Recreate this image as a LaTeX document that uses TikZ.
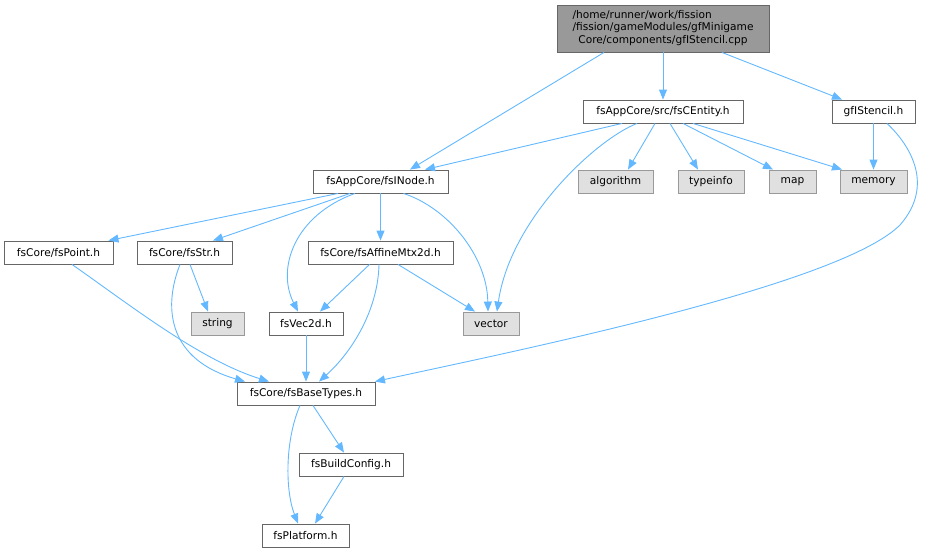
\documentclass[tikz,border=0pt]{standalone}
\usepackage{fontspec}
\setmainfont{DejaVu Sans}
\usetikzlibrary{arrows.meta}
\definecolor{edgec}{HTML}{63B8FF}
\definecolor{topfill}{HTML}{999999}
\definecolor{boxdraw}{HTML}{666666}
\definecolor{sysfill}{HTML}{E0E0E0}
\definecolor{sysdraw}{HTML}{999999}
\begin{document}
\begin{tikzpicture}[x=1pt,y=-1pt,
  box/.style={draw=boxdraw, fill=white, line width=0.9pt, minimum height=23pt, inner sep=0pt, font=\fontsize{10.6}{12.4}\selectfont},
  sysbox/.style={box, draw=sysdraw, fill=sysfill},
  topbox/.style={box, fill=topfill, minimum height=47pt},
  dep/.style={draw=edgec, line width=0.9pt, -{Triangle[length=10pt,width=8pt]}}]
\useasboundingbox (0,0) rectangle (930,552);
% nodes
\node[topbox, minimum width=212pt] (top) at (663,28.5) {\begin{tabular}{@{}l@{}}/home/runner/work/fission\\/fission/gameModules/gfMinigame\\\multicolumn{1}{@{}c@{}}{Core/components/gfIStencil.cpp}\end{tabular}};
\node[box, minimum width=160pt] (cent) at (663,111.5) {fsAppCore/src/fsCEntity.h};
\node[box, minimum width=83pt] (sten) at (873.5,111.5) {gfIStencil.h};
\node[box, minimum width=135pt] (inode) at (380.5,181.5) {fsAppCore/fsINode.h};
\node[sysbox, minimum width=75pt] (algo) at (615.5,181.5) {algorithm};
\node[sysbox, minimum width=66pt] (tinfo) at (711,181.5) {typeinfo};
\node[sysbox, minimum width=47pt] (map) at (792.5,181.5) {map};
\node[sysbox, minimum width=67pt] (mem) at (873.5,181.5) {memory};
\node[box, minimum width=109pt] (point) at (58.5,252.5) {fsCore/fsPoint.h};
\node[box, minimum width=95pt] (str) at (184.5,252.5) {fsCore/fsStr.h};
\node[box, minimum width=145pt] (aff) at (380.5,252.5) {fsCore/fsAffineMtx2d.h};
\node[sysbox, minimum width=53pt] (string) at (217.5,323.5) {string};
\node[box, minimum width=74pt] (vec) at (306,323.5) {fsVec2d.h};
\node[sysbox, minimum width=56pt] (vector) at (491,323.5) {vector};
\node[box, minimum width=138pt] (base) at (306,393.5) {fsCore/fsBaseTypes.h};
\node[box, minimum width=104pt] (build) at (351,464.5) {fsBuildConfig.h};
\node[box, minimum width=87pt] (plat) at (305.5,535.5) {fsPlatform.h};
% edges
\draw[dep] ([xshift=-59pt]top.south) -- ([xshift=29.5pt]inode.north);
\draw[dep] (top.south) -- (cent.north);
\draw[dep] ([xshift=59pt]top.south) -- ([xshift=-31.5pt]sten.north);
\draw[dep] ([xshift=-41pt]cent.south) -- ([xshift=44.5pt]inode.north);
\draw[dep] ([xshift=-26pt]cent.south) .. controls (595,140) and (510,220) .. ([xshift=6pt]vector.north);
\draw[dep] ([xshift=-8pt]cent.south) -- ([xshift=12.5pt]algo.north);
\draw[dep] ([xshift=7pt]cent.south) -- ([xshift=-13pt]tinfo.north);
\draw[dep] ([xshift=20pt]cent.south) -- ([xshift=-19.5pt]map.north);
\draw[dep] ([xshift=30pt]cent.south) -- ([xshift=-31.5pt]mem.north);
\draw[dep] (sten.south) -- (mem.north);
\draw[dep] ([xshift=13.5pt]sten.south) .. controls (910,145) and (935,185) .. (900,225)
  .. controls (840,285) and (520,350) .. ([xshift=69pt]base.north);
\draw[dep] ([xshift=-42.5pt]inode.south) -- ([xshift=50pt]point.north);
\draw[dep] ([xshift=-30.5pt]inode.south) -- ([xshift=28.5pt]str.north);
\draw[dep] ([xshift=-25.5pt]inode.south) .. controls (295,215) and (276,268) .. ([xshift=-8pt]vec.north);
\draw[dep] (inode.south) -- (aff.north);
\draw[dep] ([xshift=23pt]inode.south) .. controls (448,208) and (487,256) .. ([xshift=-3pt]vector.north);
\draw[dep] ([xshift=-11pt]aff.south) -- ([xshift=14pt]vec.north);
\draw[dep] ([xshift=17.5pt]aff.south) -- ([xshift=-16pt]vector.north);
\draw[dep] ([xshift=-1.5pt]aff.south) .. controls (378,310) and (352,352) .. ([xshift=13pt]base.north);
\draw[dep] (vec.south) -- (base.north);
\draw[dep] ([xshift=5.5pt]str.south) -- ([xshift=-9.5pt]string.north);
\draw[dep] ([xshift=-4.5pt]str.south) .. controls (162,310) and (170,360) .. ([xshift=-61pt]base.north);
\draw[dep] ([xshift=13.5pt]point.south) .. controls (130,305) and (200,360) .. ([xshift=-37pt]base.north);
\draw[dep] ([xshift=-6pt]base.south) .. controls (285,440) and (285,490) .. ([xshift=-7.5pt]plat.north);
\draw[dep] ([xshift=7pt]base.south) -- ([xshift=-7pt]build.north);
\draw[dep] ([xshift=-7pt]build.south) -- ([xshift=9.5pt]plat.north);
\end{tikzpicture}
\end{document}
